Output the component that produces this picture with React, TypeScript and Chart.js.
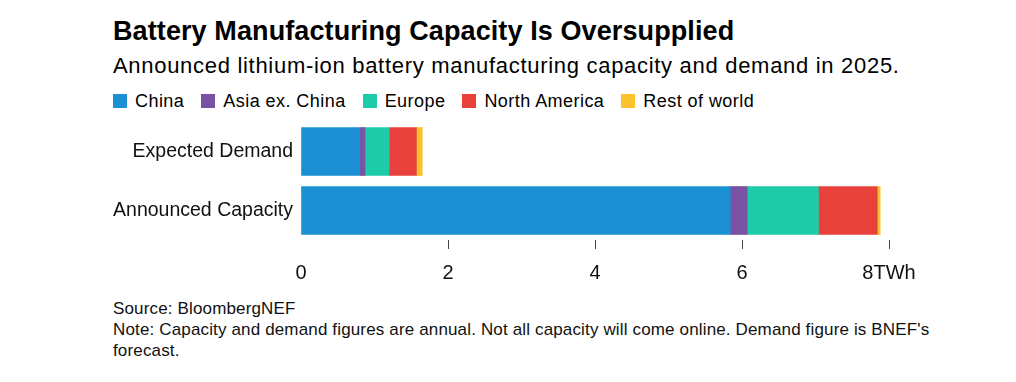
import React, { useEffect, useRef } from "react";
import { Chart, registerables } from "chart.js";

Chart.register(...registerables);

const categories = ["Expected Demand", "Announced Capacity"];
const seriesNames = ["China", "Asia ex. China", "Europe", "North America", "Rest of world"];
const china = [0.8, 5.84];
const asiaExChina = [0.07, 0.23];
const europe = [0.33, 0.97];
const northAmerica = [0.37, 0.8];
const restOfWorld = [0.08, 0.04];
const seriesColors = ["#1b91d3", "#7a52a3", "#1ecba8", "#e8403a", "#fcc22e"];
const xTickLabels = ["0", "2", "4", "6", "8TWh"];

const FONT = '"Liberation Sans", Arial, Helvetica, sans-serif';

export default function App() {
  const canvasRef = useRef<HTMLCanvasElement | null>(null);

  useEffect(() => {
    const canvas = canvasRef.current;
    if (!canvas) return;
    const values = [china, asiaExChina, europe, northAmerica, restOfWorld];
    const chart = new Chart(canvas, {
      type: "bar",
      data: {
        labels: categories,
        datasets: values.map((v, i) => ({
          label: seriesNames[i],
          data: v,
          backgroundColor: seriesColors[i],
          borderWidth: 0,
          barThickness: 48,
        })),
      },
      options: {
        indexAxis: "y",
        animation: false,
        responsive: false,
        maintainAspectRatio: false,
        layout: { padding: { top: 12, right: 127, bottom: 5, left: 0 } },
        plugins: {
          legend: { display: false },
          tooltip: { enabled: false },
          title: { display: false },
        },
        scales: {
          x: {
            stacked: true,
            min: 0,
            max: 8,
            border: { display: false },
            grid: {
              display: true,
              drawOnChartArea: false,
              drawTicks: true,
              tickLength: 9,
              lineWidth: 1,
              color: (ctx: any) => (ctx.tick && ctx.tick.value === 0 ? "rgba(0,0,0,0)" : "#444"),
            },
            ticks: {
              stepSize: 2,
              padding: 12,
              color: "#111",
              font: { family: FONT, size: 20 },
              maxRotation: 0,
              callback: (value: any) => {
                const idx = Math.round(Number(value) / 2);
                return xTickLabels[idx] ?? String(value);
              },
            },
            afterFit: (scale: any) => {
              scale.height = 50;
            },
          },
          y: {
            stacked: true,
            border: { display: false },
            grid: { display: false },
            ticks: {
              padding: 0,
              color: "#111",
              font: { family: FONT, size: 19.5 },
            },
            afterFit: (scale: any) => {
              scale.width = 301;
            },
          },
        },
      },
    });
    return () => chart.destroy();
  }, []);

  const textBase: React.CSSProperties = {
    position: "absolute",
    left: 113,
    margin: 0,
    whiteSpace: "nowrap",
    fontFamily: FONT,
    color: "#000",
  };

  return (
    <div style={{ position: "absolute", left: 0, top: 0, width: 1016, height: 382, background: "#fff" }}>
      <div style={{ ...textBase, top: 18, fontSize: 27, lineHeight: "27px", fontWeight: 700, letterSpacing: "0.1px" }}>
        Battery Manufacturing Capacity Is Oversupplied
      </div>
      <div style={{ ...textBase, top: 55, fontSize: 22, lineHeight: "22px", letterSpacing: "0.7px" }}>
        Announced lithium-ion battery manufacturing capacity and demand in 2025.
      </div>
      <div
        style={{
          ...textBase,
          top: 92,
          fontSize: 18,
          lineHeight: "18px",
          display: "flex",
          alignItems: "center",
          letterSpacing: "0.45px",
        }}
      >
        {seriesNames.map((name, i) => (
          <span key={name} style={{ display: "inline-flex", alignItems: "center", marginRight: 17 }}>
            <span
              style={{
                display: "inline-block",
                width: 14,
                height: 14,
                background: seriesColors[i],
                marginRight: 8,
              }}
            />
            {name}
          </span>
        ))}
      </div>
      <canvas
        ref={canvasRef}
        width={1016}
        height={185}
        style={{ position: "absolute", left: 0, top: 110, width: 1016, height: 185 }}
      />
      <div style={{ ...textBase, top: 298, fontSize: 17, lineHeight: "21px", color: "#111", letterSpacing: "0.15px" }}>
        Source: BloombergNEF
        <br />
        Note: Capacity and demand figures are annual. Not all capacity will come online. Demand figure is BNEF's
        <br />
        forecast.
      </div>
    </div>
  );
}
